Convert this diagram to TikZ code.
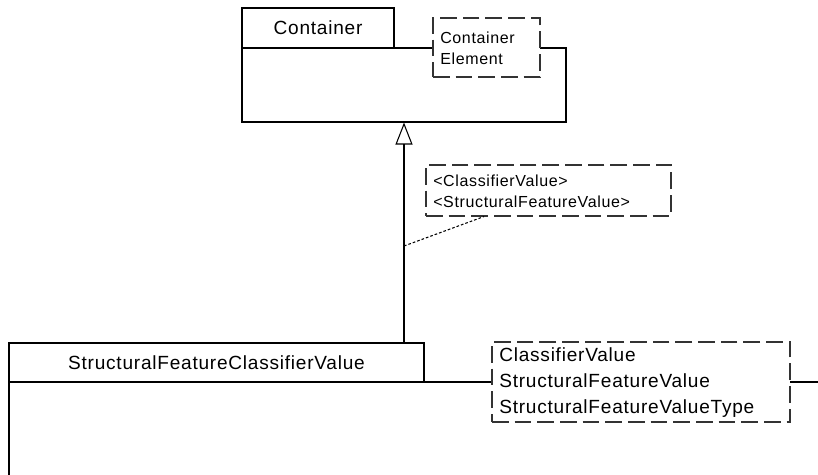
\documentclass[tikz,border=0pt]{standalone}
\usepackage{fontspec}
\setmainfont{Liberation Sans}
\newfontfamily\labfont[LetterSpace=4]{Liberation Sans}
\usetikzlibrary{fit,arrows.meta}
\tikzset{
  x=0.75pt, y=-0.75pt,
  box/.style={draw, line width=0.8pt, inner sep=0pt, fill=white},
  dbox/.style={draw=black!80, line width=0.8pt, inner sep=0pt, fill=white, dash pattern=on 12.5pt off 4.5pt},
  bigtxt/.style={font=\fontsize{14.3}{19.5}\labfont, inner sep=0pt},
  smalltxt/.style={font=\fontsize{12}{15.75}\labfont, inner sep=0pt, align=left},
  gen/.style={draw, line width=0.8pt, -{Triangle[open, length=16.5pt, width=12.75pt, line width=0.8pt]}},
  dotline/.style={draw, line width=0.8pt, dash pattern=on 2pt off 1.5pt},
}
\begin{document}
\begin{tikzpicture}
\useasboundingbox (0,0) rectangle (818,475);
\clip (0,0) rectangle (818,475);
% Container
\node[box, fit={(242,48) (566,122)}] (cbody) {};
\node[box, fit={(242,8) (394,48)}] (cname) {};
\node[bigtxt] (cnametxt) at (cname.center) {Container};
\node[dbox, fit={(433,18) (540,77)}] (celem) {};
\node[smalltxt, anchor=west] (celemtxt) at (440,48.5) {Container\\Element};
% Structural feature classifier value
\node[box, fit={(9,382) (840,500)}] (sbody) {};
\node[box, fit={(9,343) (424,382)}] (sname) {};
\node[bigtxt] (snametxt) at (sname.center) {StructuralFeatureClassifierValue};
\node[dbox, fit={(492,342) (790,422)}] (selem) {};
\node[bigtxt, align=left, anchor=west] (selemtxt) at (499,383) {ClassifierValue\\StructuralFeatureValue\\StructuralFeatureValueType};
% note
\node[dbox, fit={(426,165) (671,216)}] (note) {};
\node[smalltxt, anchor=west] (notetxt) at (433,191.5) {<ClassifierValue>\\<StructuralFeatureValue>};
% generalization
\coordinate (gx) at (404,0);
\draw[gen] (sname.north -| gx) -- (cbody.south -| gx);
\coordinate (dstart) at (404,246);
\coordinate (dx) at (484,0);
\draw[dotline] (dstart) -- (note.south -| dx);
\end{tikzpicture}
\end{document}
